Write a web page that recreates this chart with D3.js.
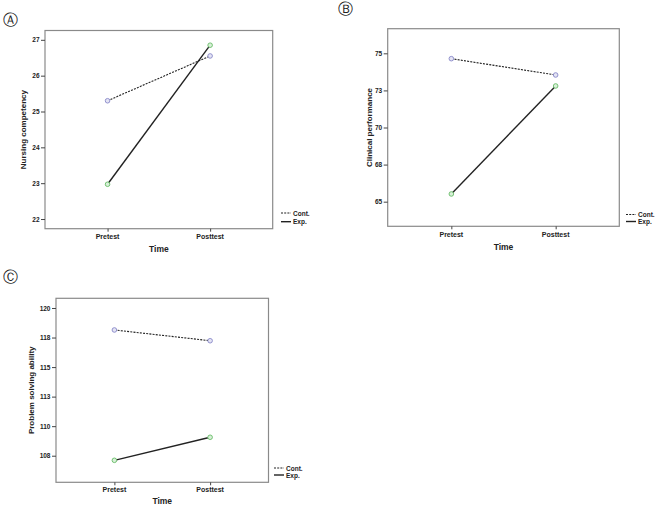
<!DOCTYPE html>
<html>
<head>
<meta charset="utf-8">
<script src="https://cdn.jsdelivr.net/npm/d3@7"></script>
<style>
  body { margin: 0; background: #fff; }
  svg { display: block; font-family: "Liberation Sans", Arial, sans-serif; }
  .tick text { font-weight: bold; fill: #222; }
</style>
</head>
<body>
<svg id="chart" width="661" height="510"></svg>
<script>
'use strict';

// data
const times = ['Pretest', 'Posttest'];
const groups = ['Cont.', 'Exp.'];

const nursingCont = [25.30, 26.55];
const nursingExp = [22.97, 26.85];
const nursingTicks = [22, 23, 24, 25, 26, 27];
const nursingTickLabels = ['22', '23', '24', '25', '26', '27'];

const clinicalCont = [74.64, 73.54];
const clinicalExp = [65.52, 72.80];
const clinicalTicks = [65, 67.5, 70, 72.5, 75];
const clinicalTickLabels = ['65', '68', '70', '73', '75'];

const problemCont = [118.14, 117.23];
const problemExp = [107.11, 109.06];
const problemTicks = [107.5, 110, 112.5, 115, 117.5, 120];
const problemTickLabels = ['108', '110', '113', '115', '118', '120'];

const svg = d3.select('#chart');

const panels = [
  {
    letter: '\u24B6', lx: 10, ly: 20,
    box: { left: 45, top: 30.5, right: 272.7, bottom: 228.7 },
    domain: [21.73, 27.26],
    ticks: nursingTicks, tickLabels: nursingTickLabels,
    cont: nursingCont, exp: nursingExp,
    yLabel: 'Nursing competency', yLabelX: 23.3,
    catY: 236.7, timeY: 249.3,
    legend: { x: 281, y: 213, dy: 8.7 }
  },
  {
    letter: '\u24B7', lx: 345, ly: 9,
    box: { left: 387.7, top: 28.7, right: 619.3, bottom: 226.3 },
    domain: [63.34, 76.66],
    ticks: clinicalTicks, tickLabels: clinicalTickLabels,
    cont: clinicalCont, exp: clinicalExp,
    yLabel: 'Clinical performance', yLabelX: 369.3,
    catY: 234, timeY: 247,
    legend: { x: 626, y: 214.5, dy: 7 }
  },
  {
    letter: '\u24B8', lx: 10, ly: 277,
    box: { left: 56, top: 298.3, right: 268.5, bottom: 482.3 },
    domain: [105.25, 120.82],
    ticks: problemTicks, tickLabels: problemTickLabels,
    cont: problemCont, exp: problemExp,
    yLabel: 'Problem solving ability', yLabelX: 31.7,
    catY: 489.7, timeY: 501,
    legend: { x: 274, y: 468, dy: 7 }
  }
];

panels.forEach(p => drawPanel(p));

function drawPanel(p) {
  const b = p.box;
  const g = svg.append('g');

  g.append('text')
    .attr('x', p.lx).attr('y', p.ly)
    .attr('text-anchor', 'middle').attr('dominant-baseline', 'central')
    .style('font-family', '"DejaVu Sans", sans-serif')
    .style('font-size', '15px').attr('fill', '#222')
    .text(p.letter);

  const x = d3.scalePoint().domain(times).range([b.left, b.right]).padding(0.61);
  const y = d3.scaleLinear().domain(p.domain).range([b.bottom, b.top]);

  g.append('rect')
    .attr('x', b.left).attr('y', b.top)
    .attr('width', b.right - b.left).attr('height', b.bottom - b.top)
    .attr('fill', 'none').attr('stroke', '#8a8a8a').attr('stroke-width', 1.2);

  const yAxis = g.append('g')
    .attr('transform', `translate(${b.left},0)`)
    .call(d3.axisLeft(y).tickValues(p.ticks)
      .tickFormat((d, i) => p.tickLabels[i]).tickSize(4).tickPadding(1.5));
  yAxis.select('.domain').remove();
  yAxis.selectAll('.tick line').attr('stroke', '#444');
  yAxis.selectAll('.tick text').style('font-size', '6.5px');

  const xAxis = g.append('g')
    .attr('transform', `translate(0,${b.bottom})`)
    .call(d3.axisBottom(x).tickSize(3).tickFormat(() => ''));
  xAxis.select('.domain').remove();
  xAxis.selectAll('.tick line').attr('stroke', '#444');

  g.selectAll('.cat')
    .data(times)
    .enter()
    .append('text')
    .attr('x', d => x(d)).attr('y', p.catY)
    .attr('text-anchor', 'middle').attr('dominant-baseline', 'central')
    .style('font-size', '7px').style('font-weight', 'bold').attr('fill', '#222')
    .text(d => d);

  g.append('text')
    .attr('x', (b.left + b.right) / 2).attr('y', p.timeY)
    .attr('text-anchor', 'middle').attr('dominant-baseline', 'central')
    .style('font-size', '8.5px').style('font-weight', 'bold').attr('fill', '#222')
    .text('Time');

  g.append('text')
    .attr('transform', `translate(${p.yLabelX},${(b.top + b.bottom) / 2}) rotate(-90)`)
    .attr('text-anchor', 'middle').attr('dominant-baseline', 'central')
    .style('font-size', '8px').style('font-weight', 'bold').attr('fill', '#222')
    .text(p.yLabel);

  const line = d3.line()
    .x((d, i) => x(times[i]))
    .y(d => y(d));

  const series = [
    { name: groups[0], values: p.cont, dash: '2,1.2', width: 1.1, stroke: '#8888c8', fill: '#e4e4f4' },
    { name: groups[1], values: p.exp, dash: null, width: 1.4, stroke: '#66bb66', fill: '#d8f0d8' }
  ];

  series.forEach(s => {
    g.append('path')
      .datum(s.values)
      .attr('d', line)
      .attr('fill', 'none').attr('stroke', '#222')
      .attr('stroke-width', s.width)
      .attr('stroke-dasharray', s.dash);

    g.selectAll(null)
      .data(s.values)
      .enter()
      .append('circle')
      .attr('cx', (d, i) => x(times[i]))
      .attr('cy', d => y(d))
      .attr('r', 2.3)
      .attr('fill', s.fill).attr('stroke', s.stroke).attr('stroke-width', 0.9);
  });

  // legend
  const lg = g.append('g').attr('transform', `translate(${p.legend.x},${p.legend.y})`);
  series.forEach((s, i) => {
    const row = lg.append('g').attr('transform', `translate(0,${i * p.legend.dy})`);
    row.append('line')
      .attr('x1', 0).attr('x2', 10).attr('y1', 0).attr('y2', 0)
      .attr('stroke', '#222').attr('stroke-width', s.width)
      .attr('stroke-dasharray', s.dash);
    row.append('text')
      .attr('x', 12).attr('y', 0)
      .attr('dominant-baseline', 'central')
      .style('font-size', '6.5px').style('font-weight', 'bold').attr('fill', '#222')
      .text(s.name);
  });
}
</script>
</body>
</html>
